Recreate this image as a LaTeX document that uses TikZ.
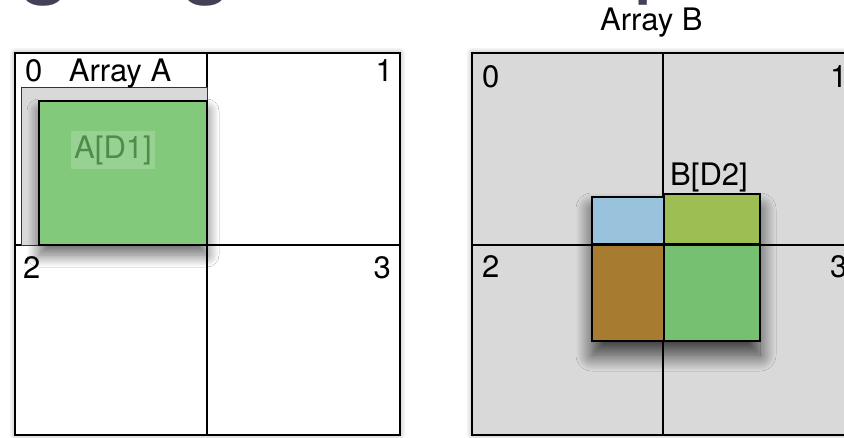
\documentclass[tikz,border=0pt]{standalone}
\usepackage{fontspec}
\setmainfont{TeX Gyre Heros}
\usetikzlibrary{positioning,shadows.blur}
\definecolor{cgrid}{HTML}{D9D9D9}
\definecolor{cgreenA}{HTML}{82C97B}
\definecolor{clabA}{HTML}{98D293}
\definecolor{ctxtA}{HTML}{4E8C4B}
\definecolor{cblue}{HTML}{99C2DC}
\definecolor{colive}{HTML}{9DBE52}
\definecolor{cbrown}{HTML}{A77C30}
\definecolor{cgreenB}{HTML}{75C171}
\definecolor{ctitle}{HTML}{424157}

\begin{document}
\begin{tikzpicture}[x=1pt,y=-1pt,font=\fontsize{31}{31}\selectfont,
  num/.style={inner sep=0pt,anchor=base west},
  numr/.style={inner sep=0pt,anchor=base east},
  frame/.style={line width=1.5pt,blur shadow={shadow xshift=0pt,shadow yshift=0pt,shadow blur radius=6pt,shadow blur steps=16,shadow opacity=35}},
  block/.style={draw=black,line width=2.5pt,fill=#1},
  title/.style={inner sep=0pt,anchor=base,text=ctitle,font=\fontsize{100}{100}\selectfont}]
\useasboundingbox (0,0) rectangle (844,437);
\clip (0,0) rectangle (844,437);

% cut-off heading
\node[title] (tg1) at (45,-16) {g};
\node[title] (tg2) at (207,-16) {g};
\node[title] (tp) at (661,-17) {p};

% array A
\draw[frame,fill=white] (15,53) rectangle (400,435);
\draw[line width=1.2pt] (207,53) -- (207,435) (15,245) -- (400,245);
\draw[draw=black!80,line width=0.8pt,fill=cgrid] (21,87) rectangle (207,245);
\draw[line width=2pt,fill=cgreenA,blur shadow={shadow xshift=0pt,shadow yshift=-10pt,shadow blur radius=12pt,shadow blur steps=20,shadow opacity=60}]
  (39,101) rectangle (207,245);
\node[num] (a0) at (25,81) {0};
\node (arrA) [num,right=26pt of a0.base east,anchor=base west] {Array A};
\node[numr] (a1) at (393,81) {1};
\node[num] (a2) at (23,278) {2};
\node[numr] (a3) at (391,278) {3};
\node[fill=clabA,text=ctxtA,inner xsep=3pt,inner ysep=4pt] (ad1) at (113,150) {A[D1]};

% array B
\node[inner sep=0pt,anchor=base west] (arrB) at (600,30) {Array B};
\draw[frame,fill=cgrid] (472,53) rectangle (900,435);
\draw[line width=1.2pt] (663,53) -- (663,435) (472,245) -- (900,245);
\node[num] (b0) at (482,87) {0};
\node[num] (b1) at (830,87) {1};
\node[num] (b2) at (482,277) {2};
\node[num] (b3) at (830,277) {3};

% pieces of B[D2]
\path[blur shadow={shadow xshift=0pt,shadow yshift=-14pt,shadow blur radius=16pt,shadow blur steps=24,shadow opacity=75}]
  (592,195) rectangle (760,341);
\draw[block=cblue] (592,197) rectangle (664,244);
\draw[block=colive] (664,194) rectangle (760,244);
\draw[block=cbrown] (592,245) rectangle (664,341);
\draw[block=cgreenB] (664,245) rectangle (760,341);
\node[inner sep=0pt,anchor=base west] (bd2) at (670,185) {B[D2]};
\end{tikzpicture}
\end{document}
